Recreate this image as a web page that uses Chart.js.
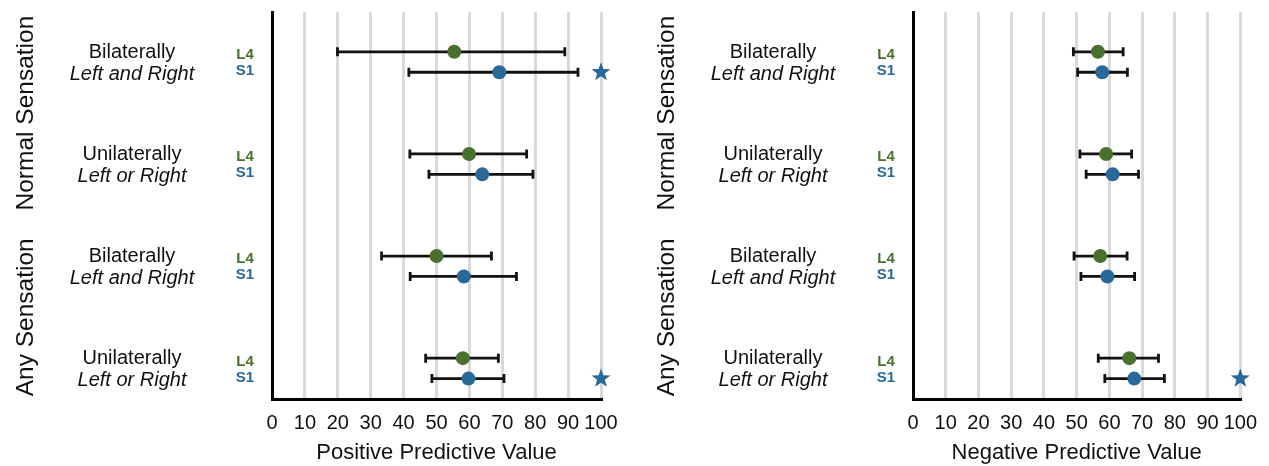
<!DOCTYPE html>
<html>
<head>
<meta charset="utf-8">
<script src="https://cdn.jsdelivr.net/npm/chart.js@4/dist/chart.umd.min.js"></script>
<style>
  body { margin: 0; background: #fff; }
  .panel { position: absolute; top: 0; }
</style>
</head>
<body>
<div class="panel" style="left:0"><canvas id="ppvChart" width="641" height="466"></canvas></div>
<div class="panel" style="left:641px"><canvas id="npvChart" width="628" height="466"></canvas></div>
<script>
// row labels
const rowTitles = ['Bilaterally', 'Unilaterally', 'Bilaterally', 'Unilaterally'];
const rowSubtitles = ['Left and Right', 'Left or Right', 'Left and Right', 'Left or Right'];
const groupLabels = ['Normal Sensation', 'Any Sensation'];
const seriesNames = ['L4', 'S1'];

// positive predictive value (%), mean and 95% CI
const ppvL4 = [55.4, 59.9, 50.0, 58.0];
const ppvL4Lo = [19.9, 41.9, 33.3, 46.7];
const ppvL4Hi = [89.0, 77.4, 66.7, 68.8];
const ppvS1 = [69.1, 63.9, 58.3, 59.7];
const ppvS1Lo = [41.6, 47.7, 42.0, 48.6];
const ppvS1Hi = [93.0, 79.3, 74.3, 70.5];
const ppvStar = [true, false, false, true];

// negative predictive value (%)
const npvL4 = [56.5, 59.0, 57.2, 66.1];
const npvL4Lo = [49.0, 51.0, 49.2, 56.6];
const npvL4Hi = [64.2, 66.8, 65.4, 75.0];
const npvS1 = [57.8, 61.0, 59.4, 67.6];
const npvS1Lo = [50.3, 52.9, 51.3, 58.6];
const npvS1Hi = [65.5, 68.9, 67.7, 76.8];
const npvStar = [false, false, false, true];

const GREEN = '#4a7030';
const BLUE = '#2a6898';
const TEXT = '#111';
const FONT = '"Liberation Sans", Arial, sans-serif';
const OFFSET = 0.1;

function drawStar(ctx, cx, cy, outer, inner) {
    ctx.beginPath();
    for (let i = 0; i < 10; i++) {
        const r = i % 2 === 0 ? outer : inner;
        const a = -Math.PI / 2 + i * Math.PI / 5;
        const px = cx + r * Math.cos(a);
        const py = cy + r * Math.sin(a);
        if (i === 0) ctx.moveTo(px, py); else ctx.lineTo(px, py);
    }
    ctx.closePath();
    ctx.fill();
}

const errorBars = {
    id: 'errorBars',
    beforeDatasetsDraw(chart) {
        const ctx = chart.ctx;
        const xs = chart.scales.x;
        const ys = chart.scales.y;
        ctx.save();
        ctx.strokeStyle = '#111';
        ctx.lineWidth = 2.8;
        chart.data.datasets.forEach(ds => {
            ds.data.forEach((p, i) => {
                const y = ys.getPixelForValue(p.y);
                const x0 = xs.getPixelForValue(ds.lo[i]);
                const x1 = xs.getPixelForValue(ds.hi[i]);
                ctx.beginPath();
                ctx.moveTo(x0, y); ctx.lineTo(x1, y);
                ctx.moveTo(x0, y - 4.5); ctx.lineTo(x0, y + 4.5);
                ctx.moveTo(x1, y - 4.5); ctx.lineTo(x1, y + 4.5);
                ctx.stroke();
            });
        });
        ctx.restore();
    },
    afterDraw(chart) {
        const ctx = chart.ctx;
        const xs = chart.scales.x;
        const ys = chart.scales.y;
        const stars = chart.options.plugins.errorBars.stars;
        ctx.save();
        // significance stars at the right edge
        ctx.fillStyle = BLUE;
        stars.forEach((s, i) => {
            if (s) drawStar(ctx, xs.getPixelForValue(100), ys.getPixelForValue(i + OFFSET), 10, 4.1);
        });
        // row labels
        ctx.fillStyle = TEXT;
        ctx.textAlign = 'center';
        ctx.textBaseline = 'middle';
        rowTitles.forEach((t, i) => {
            const yc = ys.getPixelForValue(i);
            ctx.font = '20px ' + FONT;
            ctx.fillText(t, 132, yc - 10);
            ctx.font = 'italic 20px ' + FONT;
            ctx.fillText(rowSubtitles[i], 132, yc + 12.5);
            ctx.font = 'bold 15px ' + FONT;
            ctx.fillStyle = GREEN;
            ctx.fillText(seriesNames[0], 245, yc - 7);
            ctx.fillStyle = BLUE;
            ctx.fillText(seriesNames[1], 245, yc + 9);
            ctx.fillStyle = TEXT;
        });
        // group labels, rotated
        ctx.font = '24.5px ' + FONT;
        ctx.textBaseline = 'alphabetic';
        groupLabels.forEach((g, k) => {
            const yc = (ys.getPixelForValue(2 * k) + ys.getPixelForValue(2 * k + 1)) / 2;
            ctx.save();
            ctx.translate(33, yc);
            ctx.rotate(-Math.PI / 2);
            ctx.fillText(g, 0, 0);
            ctx.restore();
        });
        ctx.restore();
    }
};

function makePanel(canvasId, title, l4, l4Lo, l4Hi, s1, s1Lo, s1Hi, stars, padRight) {
    const ctx = document.getElementById(canvasId).getContext('2d');
    return new Chart(ctx, {
        type: 'scatter',
        data: {
            datasets: [
                {
                    label: seriesNames[0],
                    data: l4.map((v, i) => ({ x: v, y: i - OFFSET })),
                    lo: l4Lo, hi: l4Hi,
                    backgroundColor: GREEN, borderWidth: 0, pointRadius: 7
                },
                {
                    label: seriesNames[1],
                    data: s1.map((v, i) => ({ x: v, y: i + OFFSET })),
                    lo: s1Lo, hi: s1Hi,
                    backgroundColor: BLUE, borderWidth: 0, pointRadius: 7
                }
            ]
        },
        options: {
            responsive: false,
            animation: false,
            devicePixelRatio: 1,
            layout: { padding: { top: 12, right: padRight, bottom: 0, left: 0 } },
            plugins: {
                legend: { display: false },
                tooltip: { enabled: false },
                errorBars: { stars: stars }
            },
            scales: {
                x: {
                    min: 0, max: 100,
                    ticks: {
                        stepSize: 10, autoSkip: false, maxRotation: 0, padding: 12,
                        color: TEXT, font: { family: FONT, size: 20 }
                    },
                    grid: { color: '#d9d9d9', lineWidth: 3, drawTicks: false },
                    border: { color: '#000', width: 3 },
                    title: {
                        display: true, text: title, color: TEXT,
                        font: { family: FONT, size: 22 }, padding: { top: 4, bottom: 0 }
                    },
                    afterFit(scale) { scale.height = 67; }
                },
                y: {
                    min: -0.49, max: 3.30, reverse: true,
                    ticks: { display: false },
                    grid: { display: false, drawTicks: false },
                    border: { color: '#000', width: 3 },
                    afterFit(scale) { scale.width = 272; }
                }
            }
        },
        plugins: [errorBars]
    });
}

makePanel('ppvChart', 'Positive Predictive Value', ppvL4, ppvL4Lo, ppvL4Hi, ppvS1, ppvS1Lo, ppvS1Hi, ppvStar, 40);
makePanel('npvChart', 'Negative Predictive Value', npvL4, npvL4Lo, npvL4Hi, npvS1, npvS1Lo, npvS1Hi, npvStar, 27);
</script>
</body>
</html>
